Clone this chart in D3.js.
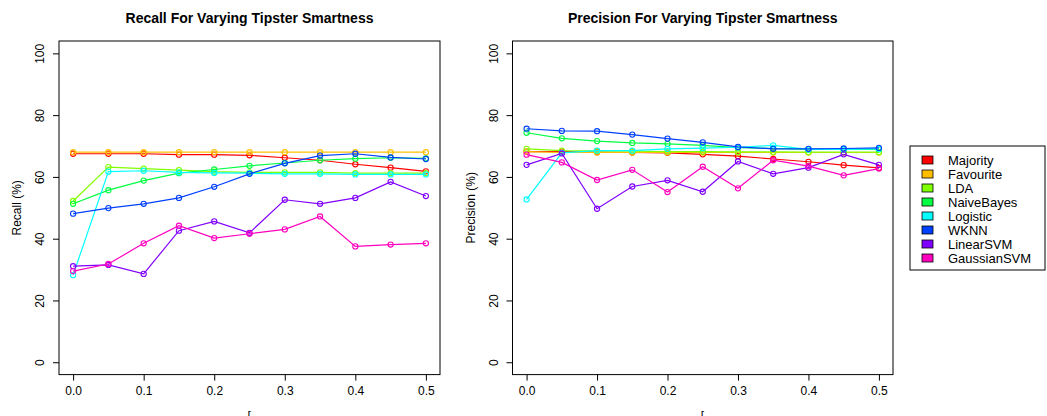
<!DOCTYPE html>
<html>
<head>
<meta charset="utf-8">
<script src="https://cdn.jsdelivr.net/npm/d3@7"></script>
<style>
  body { margin: 0; background: #fff; }
  svg { font-family: "Liberation Sans", Arial, sans-serif; }
</style>
</head>
<body>
<svg id="chart" width="1047" height="416"></svg>
<script>
// tipster smartness levels
var smartness = [0, 0.05, 0.1, 0.15, 0.2, 0.25, 0.3, 0.35, 0.4, 0.45, 0.5];
var methods = ["Majority", "Favourite", "LDA", "NaiveBayes", "Logistic", "WKNN", "LinearSVM", "GaussianSVM"];
var colors = ["#FF0000", "#FFBF00", "#80FF00", "#00FF40", "#00FFFF", "#0040FF", "#8000FF", "#FF00BF"];
var yTicks = [0, 20, 40, 60, 80, 100];
var xTicks = [0, 0.1, 0.2, 0.3, 0.4, 0.5];

// recall (%) per method
var recallMajority    = [67.5, 67.5, 67.5, 67.2, 67.2, 67.0, 66.2, 65.4, 64.1, 63.0, 61.8];
var recallFavourite   = [68.0, 68.0, 68.0, 68.0, 68.0, 68.0, 68.0, 68.0, 68.0, 68.0, 68.0];
var recallLDA         = [52.2, 63.2, 62.7, 62.2, 61.7, 61.5, 61.5, 61.5, 61.2, 61.2, 61.2];
var recallNaiveBayes  = [51.3, 55.7, 58.8, 61.2, 62.4, 63.6, 64.5, 65.4, 65.9, 66.2, 66.0];
var recallLogistic    = [28.2, 61.7, 62.0, 61.5, 61.3, 61.2, 61.0, 61.0, 60.8, 60.8, 60.8];
var recallWKNN        = [48.1, 49.9, 51.3, 53.2, 56.8, 61.0, 64.4, 66.9, 67.5, 66.3, 65.8];
var recallLinearSVM   = [31.1, 31.5, 28.6, 42.6, 45.6, 41.9, 52.6, 51.3, 53.2, 58.4, 53.8];
var recallGaussianSVM = [29.5, 31.8, 38.5, 44.2, 40.2, 41.6, 43.0, 47.2, 37.5, 38.1, 38.5];

// precision (%) per method
var precMajority    = [68.2, 68.2, 68.0, 67.9, 67.8, 67.3, 66.7, 65.8, 64.9, 63.8, 62.9];
var precFavourite   = [68.2, 67.9, 67.9, 67.9, 67.9, 67.9, 67.9, 67.9, 67.9, 67.9, 67.9];
var precLDA         = [69.1, 68.5, 68.4, 68.3, 68.2, 68.2, 68.1, 68.1, 68.0, 68.0, 68.0];
var precNaiveBayes  = [74.3, 72.5, 71.6, 71.0, 70.7, 70.2, 69.5, 69.2, 68.9, 68.9, 68.9];
var precLogistic    = [52.7, 67.8, 68.5, 68.5, 69.1, 69.3, 69.6, 70.2, 68.9, 68.9, 69.1];
var precWKNN        = [75.6, 74.9, 74.8, 73.7, 72.4, 71.2, 69.7, 69.1, 69.1, 69.2, 69.4];
var precLinearSVM   = [63.9, 67.6, 49.7, 56.9, 58.9, 55.2, 65.0, 61.0, 63.0, 67.3, 63.9];
var precGaussianSVM = [67.2, 64.7, 59.0, 62.3, 55.1, 63.3, 56.3, 65.4, 63.5, 60.5, 62.7];

var recallSeries = [recallMajority, recallFavourite, recallLDA, recallNaiveBayes,
                    recallLogistic, recallWKNN, recallLinearSVM, recallGaussianSVM];
var precSeries = [precMajority, precFavourite, precLDA, precNaiveBayes,
                  precLogistic, precWKNN, precLinearSVM, precGaussianSVM];

var svg = d3.select("#chart");

function drawPanel(left, right, title, ylab, series) {
  var top = 41, bottom = 374.6;
  // R style 4% padding on both axes
  var x = d3.scaleLinear().domain([-0.02, 0.52]).range([left, right]);
  var y = d3.scaleLinear().domain([-4, 104]).range([bottom, top]);
  var g = svg.append("g");

  g.append("rect")
    .attr("x", left).attr("y", top)
    .attr("width", right - left).attr("height", bottom - top)
    .attr("fill", "none").attr("stroke", "#000").attr("stroke-width", 1);

  var xAxis = d3.axisBottom(x).tickValues(xTicks).tickSize(6).tickPadding(6)
    .tickFormat(d3.format(".1f"));
  var xg = g.append("g").attr("transform", "translate(0," + bottom + ")").call(xAxis);
  xg.select(".domain").remove();
  xg.selectAll("text").attr("font-size", 12).attr("fill", "#000");

  var yAxis = d3.axisLeft(y).tickValues(yTicks).tickSize(6).tickFormat(d3.format("d"));
  var yg = g.append("g").attr("transform", "translate(" + left + ",0)").call(yAxis);
  yg.select(".domain").remove();
  // rotated tick labels, like R's default las = 0
  yg.selectAll("text")
    .attr("font-size", 12).attr("fill", "#000")
    .attr("x", null).attr("y", null).attr("dy", null)
    .attr("text-anchor", "middle")
    .attr("transform", "translate(-15,0) rotate(-90)");

  g.append("text")
    .attr("x", (left + right) / 2).attr("y", 23)
    .attr("text-anchor", "middle")
    .attr("font-size", 14).attr("font-weight", "bold")
    .text(title);

  g.append("text")
    .attr("transform", "translate(" + (left - 38) + "," + ((top + bottom) / 2) + ") rotate(-90)")
    .attr("text-anchor", "middle")
    .attr("font-size", 12)
    .text(ylab);

  // x label sits mostly below the visible area
  g.append("text")
    .attr("x", (left + right) / 2 - 2).attr("y", 420)
    .attr("font-size", 12)
    .text("[");

  var line = d3.line()
    .x(function(d, i) { return x(smartness[i]); })
    .y(function(d) { return y(d); });

  series.forEach(function(vals, k) {
    g.append("path")
      .datum(vals)
      .attr("d", line)
      .attr("fill", "none")
      .attr("stroke", colors[k])
      .attr("stroke-width", 1.2);
    g.selectAll(null)
      .data(vals).enter()
      .append("circle")
      .attr("cx", function(d, i) { return x(smartness[i]); })
      .attr("cy", function(d) { return y(d); })
      .attr("r", 2.6)
      .attr("fill", "none")
      .attr("stroke", colors[k])
      .attr("stroke-width", 1.1);
  });
}

drawPanel(59, 440, "Recall For Varying Tipster Smartness", "Recall (%)", recallSeries);
drawPanel(512.5, 893, "Precision For Varying Tipster Smartness", "Precision (%)", precSeries);

// legend
var lg = svg.append("g");
lg.append("rect")
  .attr("x", 910).attr("y", 146).attr("width", 135).attr("height", 124)
  .attr("fill", "#fff").attr("stroke", "#000").attr("stroke-width", 1);
methods.forEach(function(m, i) {
  var yy = 160 + i * 14;
  lg.append("rect")
    .attr("x", 922).attr("y", yy - 4).attr("width", 11).attr("height", 8)
    .attr("fill", colors[i]).attr("stroke", "#000").attr("stroke-width", 0.8);
  lg.append("text")
    .attr("x", 948).attr("y", yy + 4.5)
    .attr("font-size", 13)
    .text(m);
});
</script>
</body>
</html>
